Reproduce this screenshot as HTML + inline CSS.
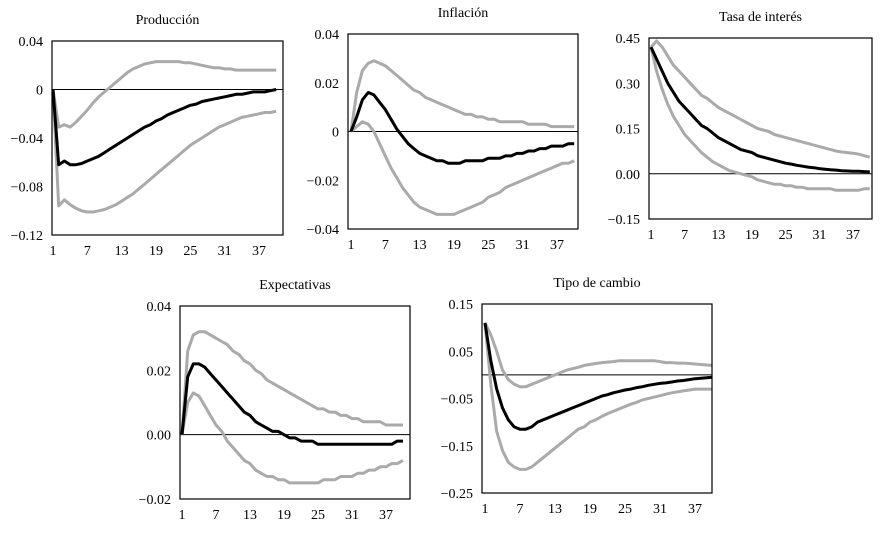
<!DOCTYPE html>
<html><head><meta charset="utf-8"><style>
html,body{margin:0;padding:0;background:#fff;}
svg{display:block;font-family:"Liberation Serif",serif;}
</style></head><body>
<svg id="c" width="880" height="535"></svg>
<script>
const periodTicks=[1,7,13,19,25,31,37];
const prodMid=[0,-0.062,-0.059,-0.062,-0.062,-0.061,-0.059,-0.057,-0.055,-0.052,-0.049,-0.046,-0.043,-0.040,-0.037,-0.034,-0.031,-0.029,-0.026,-0.024,-0.021,-0.019,-0.017,-0.015,-0.013,-0.012,-0.010,-0.009,-0.008,-0.007,-0.006,-0.005,-0.004,-0.004,-0.003,-0.002,-0.002,-0.002,-0.001,0.000];
const prodUp=[0,-0.031,-0.029,-0.031,-0.027,-0.022,-0.017,-0.011,-0.006,-0.002,0.002,0.006,0.010,0.014,0.017,0.019,0.021,0.022,0.023,0.023,0.023,0.023,0.023,0.022,0.022,0.021,0.020,0.019,0.018,0.018,0.017,0.017,0.016,0.016,0.016,0.016,0.016,0.016,0.016,0.016];
const prodLo=[0,-0.096,-0.091,-0.095,-0.098,-0.100,-0.101,-0.101,-0.100,-0.099,-0.097,-0.095,-0.092,-0.089,-0.086,-0.082,-0.078,-0.074,-0.070,-0.066,-0.062,-0.058,-0.054,-0.050,-0.046,-0.043,-0.040,-0.037,-0.034,-0.031,-0.029,-0.027,-0.025,-0.023,-0.022,-0.021,-0.020,-0.019,-0.019,-0.018];
const prodTicks=["0.04","0","−0.04","−0.08","−0.12"];
const infMid=[0,0.006,0.013,0.016,0.015,0.012,0.009,0.005,0.001,-0.002,-0.005,-0.007,-0.009,-0.010,-0.011,-0.012,-0.012,-0.013,-0.013,-0.013,-0.012,-0.012,-0.012,-0.012,-0.011,-0.011,-0.011,-0.010,-0.010,-0.009,-0.009,-0.008,-0.008,-0.007,-0.007,-0.006,-0.006,-0.006,-0.005,-0.005];
const infUp=[0,0.016,0.025,0.028,0.029,0.028,0.027,0.025,0.023,0.021,0.019,0.017,0.016,0.014,0.013,0.012,0.011,0.010,0.009,0.008,0.007,0.007,0.006,0.006,0.005,0.005,0.004,0.004,0.004,0.004,0.004,0.003,0.003,0.003,0.003,0.002,0.002,0.002,0.002,0.002];
const infLo=[0,0.002,0.004,0.003,0.000,-0.005,-0.010,-0.015,-0.019,-0.023,-0.026,-0.029,-0.031,-0.032,-0.033,-0.034,-0.034,-0.034,-0.034,-0.033,-0.032,-0.031,-0.030,-0.029,-0.027,-0.026,-0.025,-0.023,-0.022,-0.021,-0.020,-0.019,-0.018,-0.017,-0.016,-0.015,-0.014,-0.013,-0.013,-0.012];
const infTicks=["0.04","0.02","0","−0.02","−0.04"];
const tasaMid=[0.42,0.38,0.34,0.30,0.27,0.24,0.22,0.20,0.18,0.16,0.15,0.135,0.12,0.11,0.10,0.09,0.08,0.075,0.07,0.06,0.055,0.05,0.045,0.04,0.035,0.032,0.028,0.025,0.022,0.02,0.017,0.015,0.013,0.012,0.01,0.009,0.008,0.008,0.007,0.006];
const tasaUp=[0.42,0.44,0.42,0.39,0.36,0.34,0.32,0.30,0.28,0.26,0.25,0.235,0.22,0.21,0.20,0.19,0.18,0.17,0.16,0.15,0.145,0.14,0.13,0.125,0.12,0.115,0.11,0.105,0.10,0.095,0.09,0.085,0.08,0.075,0.072,0.07,0.068,0.065,0.06,0.055];
const tasaLo=[0.42,0.34,0.28,0.23,0.19,0.16,0.13,0.11,0.09,0.07,0.055,0.04,0.03,0.02,0.01,0.005,0,-0.005,-0.01,-0.02,-0.025,-0.03,-0.035,-0.035,-0.04,-0.04,-0.045,-0.045,-0.05,-0.05,-0.05,-0.05,-0.05,-0.055,-0.055,-0.055,-0.055,-0.055,-0.05,-0.05];
const tasaTicks=["0.45","0.30","0.15","0.00","−0.15"];
const expMid=[0,0.018,0.022,0.022,0.021,0.019,0.017,0.015,0.013,0.011,0.009,0.007,0.006,0.004,0.003,0.002,0.001,0.001,0,-0.001,-0.001,-0.002,-0.002,-0.002,-0.003,-0.003,-0.003,-0.003,-0.003,-0.003,-0.003,-0.003,-0.003,-0.003,-0.003,-0.003,-0.003,-0.003,-0.002,-0.002];
const expUp=[0,0.026,0.031,0.032,0.032,0.031,0.030,0.029,0.028,0.026,0.025,0.023,0.022,0.020,0.019,0.017,0.016,0.015,0.014,0.013,0.012,0.011,0.010,0.009,0.008,0.008,0.007,0.007,0.006,0.006,0.005,0.005,0.004,0.004,0.004,0.004,0.003,0.003,0.003,0.003];
const expLo=[0,0.010,0.013,0.012,0.009,0.006,0.003,0.001,-0.002,-0.004,-0.006,-0.008,-0.009,-0.011,-0.012,-0.013,-0.013,-0.014,-0.014,-0.015,-0.015,-0.015,-0.015,-0.015,-0.015,-0.014,-0.014,-0.014,-0.013,-0.013,-0.013,-0.012,-0.012,-0.011,-0.011,-0.010,-0.010,-0.009,-0.009,-0.008];
const expTicks=["0.04","0.02","0.00","−0.02"];
const tcMid=[0.11,0.03,-0.03,-0.07,-0.095,-0.11,-0.115,-0.115,-0.11,-0.10,-0.095,-0.09,-0.085,-0.08,-0.075,-0.07,-0.065,-0.06,-0.055,-0.05,-0.045,-0.042,-0.038,-0.035,-0.032,-0.03,-0.027,-0.025,-0.022,-0.02,-0.018,-0.017,-0.015,-0.013,-0.012,-0.01,-0.008,-0.007,-0.006,-0.005];
const tcUp=[0.11,0.085,0.05,0.01,-0.01,-0.02,-0.025,-0.025,-0.02,-0.015,-0.01,-0.005,0,0.005,0.01,0.013,0.016,0.02,0.022,0.024,0.026,0.027,0.028,0.03,0.03,0.03,0.03,0.03,0.03,0.03,0.028,0.026,0.026,0.025,0.025,0.024,0.023,0.022,0.021,0.02];
const tcLo=[0.11,-0.02,-0.12,-0.16,-0.185,-0.195,-0.2,-0.2,-0.195,-0.185,-0.175,-0.165,-0.155,-0.145,-0.135,-0.125,-0.115,-0.11,-0.1,-0.095,-0.088,-0.082,-0.077,-0.072,-0.067,-0.062,-0.058,-0.053,-0.05,-0.047,-0.044,-0.041,-0.038,-0.036,-0.034,-0.032,-0.03,-0.03,-0.03,-0.03];
const tcTicks=["0.15","0.05","−0.05","−0.15","−0.25"];

const NS="http://www.w3.org/2000/svg";
const svg=document.getElementById('c');
function mk(tag,attrs,parent){const e=document.createElementNS(NS,tag);for(const k in attrs)e.setAttribute(k,attrs[k]);parent.appendChild(e);return e;}

function panel(cfg){
  const g=mk('g',{},svg);
  
  
  const {L,R,T,B,ymax,ymin,x1,x37}=cfg;
  const step=(x37-x1)/36;
  const X=t=>x1+(t-1)*step;
  const Y=v=>T+(ymax-v)/(ymax-ymin)*(B-T);
  const title=mk('text',{x:(L+R)/2,y:T-17,'text-anchor':'middle','font-size':14,fill:'#000'},g);
  title.textContent=cfg.title;
  
  
  const n=cfg.ticks.length;
  cfg.ticks.forEach((lab,i)=>{
    const v=ymax-(ymax-ymin)*i/(n-1);
    const t=mk('text',{x:L-9,y:Y(v)+5,'text-anchor':'end','font-size':14,fill:'#000'},g);
    t.textContent=lab;
    
    
  });
  periodTicks.forEach(p=>{
    const t=mk('text',{x:X(p),y:B+20,'text-anchor':'middle','font-size':14,fill:'#000'},g);
    t.textContent=p;
    
    
  });
  const z=mk('line',{x1:L,x2:R,y1:Y(0),y2:Y(0),stroke:'#000','stroke-width':1},g);
  
  
  const series=[[cfg.up,'#aaaaaa',3,'upper-band'],[cfg.lo,'#aaaaaa',3,'lower-band'],[cfg.mid,'#000',3,'response-line']];
  series.forEach(([arr,col,w,nm])=>{
    const d=arr.map((v,i)=>(i?'L':'M')+X(i+1).toFixed(1)+' '+Y(v).toFixed(1)).join(' ');
    const p=mk('path',{d:d,fill:'none',stroke:col,'stroke-width':w,'stroke-linejoin':'round'},g);
    
    
  });
  const f=mk('rect',{x:L,y:T,width:R-L,height:B-T,fill:'none',stroke:'#000','stroke-width':1.2},g);
  
  
}
panel({name:'produccion',title:'Producción',L:52,R:283,T:41,B:235,ymax:0.04,ymin:-0.12,x1:53,x37:259,ticks:prodTicks,mid:prodMid,up:prodUp,lo:prodLo});
panel({name:'inflacion',title:'Inflación',L:348,R:578,T:34,B:229,ymax:0.04,ymin:-0.04,x1:351,x37:557,ticks:infTicks,mid:infMid,up:infUp,lo:infLo});
panel({name:'tasa',title:'Tasa de interés',L:649,R:872,T:38,B:219,ymax:0.45,ymin:-0.15,x1:651,x37:853,ticks:tasaTicks,mid:tasaMid,up:tasaUp,lo:tasaLo});
panel({name:'expectativas',title:'Expectativas',L:180,R:410,T:306,B:499,ymax:0.04,ymin:-0.02,x1:182,x37:386,ticks:expTicks,mid:expMid,up:expUp,lo:expLo});
panel({name:'tipo-cambio',title:'Tipo de cambio',L:482,R:712,T:304,B:493,ymax:0.15,ymin:-0.25,x1:485,x37:695,ticks:tcTicks,mid:tcMid,up:tcUp,lo:tcLo});
</script>
</body></html>
